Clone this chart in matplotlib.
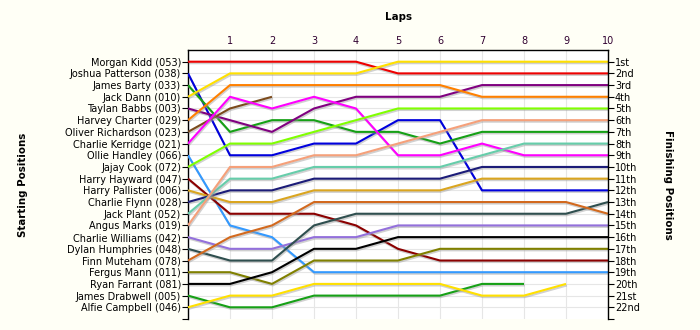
import matplotlib
matplotlib.use("Agg")
import matplotlib.pyplot as plt
import matplotlib.patheffects as pe

# starting grid order, with car numbers
drivers = ["Morgan Kidd (053)", "Joshua Patterson (038)", "James Barty (033)",
           "Jack Dann (010)", "Taylan Babbs (003)", "Harvey Charter (029)",
           "Oliver Richardson (023)", "Charlie Kerridge (021)", "Ollie Handley (066)",
           "Jajay Cook (072)", "Harry Hayward (047)", "Harry Pallister (006)",
           "Charlie Flynn (028)", "Jack Plant (052)", "Angus Marks (019)",
           "Charlie Williams (042)", "Dylan Humphries (048)", "Finn Muteham (078)",
           "Fergus Mann (011)", "Ryan Farrant (081)", "James Drabwell (005)",
           "Alfie Campbell (046)"]

# position at lap 0..10 (shorter lists = retired)
positions = [
    [1, 1, 1, 1, 1, 2, 2, 2, 2, 2, 2],
    [2, 9, 9, 8, 8, 6, 6, 12, 12, 12, 12],
    [3, 7, 6, 6, 7, 7, 8, 7, 7, 7, 7],
    [4, 2, 2, 2, 2, 1, 1, 1, 1, 1, 1],
    [5, 6, 7, 5, 4, 4, 4, 3, 3, 3, 3],
    [6, 3, 3, 3, 3, 3, 3, 4, 4, 4, 4],
    [7, 5, 4],
    [8, 4, 5, 4, 5, 9, 9, 8, 9, 9, 9],
    [9, 15, 16, 19, 19, 19, 19, 19, 19, 19, 19],
    [10, 8, 8, 7, 6, 5, 5, 5, 5, 5, 5],
    [11, 14, 14, 14, 15, 17, 18, 18, 18, 18, 18],
    [12, 13, 13, 12, 12, 12, 12, 11, 11, 11, 11],
    [13, 12, 12, 11, 11, 11, 11, 10, 10, 10, 10],
    [14, 11, 11, 10, 10, 10, 10, 9, 8, 8, 8],
    [15, 10, 10, 9, 9, 8, 7, 6, 6, 6, 6],
    [16, 17, 17, 16, 16, 15, 15, 15, 15, 15, 15],
    [17, 18, 18, 15, 14, 14, 14, 14, 14, 14, 13],
    [18, 16, 15, 13, 13, 13, 13, 13, 13, 13, 14],
    [19, 19, 20, 18, 18, 18, 17, 17, 17, 17, 17],
    [20, 20, 19, 17, 17, 16, 16, 16, 16, 16, 16],
    [21, 22, 22, 21, 21, 21, 21, 20, 20],
    [22, 21, 21, 20, 20, 20, 20, 21, 21, 20],
]

colours = ["#ee0000", "#0000dd", "#16a016", "#ffe000", "#800080", "#ff8000",
           "#7b4a1c", "#ff00ff", "#3399ff", "#80ff00", "#8b0000", "#daa520",
           "#1c1c78", "#66cdaa", "#f5a07a", "#9370db", "#2f4f4f", "#d2691e",
           "#808000", "#000000", "#16a016", "#ffe000"]

laps = list(range(1, 11))
finish_labels = ["1st", "2nd", "3rd"] + [f"{n}th" for n in range(4, 21)] + ["21st", "22nd"]

fig = plt.figure(figsize=(7, 3.3), dpi=100, facecolor="#fffff6")
ax = fig.add_axes([188 / 700, 1 - 319 / 330, 420 / 700, 269 / 330])
ax.set_facecolor("white")

for pos, col in zip(positions, colours):
    ax.plot(range(len(pos)), pos, color=col, lw=1.5, solid_capstyle="butt",
            path_effects=[pe.SimpleLineShadow(offset=(0.6, -1.1), shadow_color="#999999", alpha=0.45),
                          pe.Normal()], zorder=3)

ax.set_xlim(0, 10)
ax.set_ylim(23, 0)

# grid
for x in laps:
    ax.axvline(x, color="#e6e6e6", lw=0.8, zorder=1)
for y in range(1, 23):
    ax.axhline(y, color="#e6e6e6", lw=0.8, zorder=1)

ax.xaxis.tick_top()
ax.set_xticks(laps)
ax.set_xticklabels([str(l) for l in laps], color="#300030")
ax.tick_params(axis="x", length=0, pad=3, labelsize=7)
fig.text(398 / 700, 1 - 17 / 330, "Laps", fontsize=7.4, fontweight="bold", ha="center", va="center")

ax.set_yticks(list(range(1, 24)))
ax.set_yticklabels(drivers + [""])
ax.tick_params(axis="y", length=4, pad=1, labelsize=7, direction="out")
ax.set_ylabel("Starting Positions", fontsize=7.4, fontweight="bold")
ax.yaxis.set_label_coords(-0.381, 0.5)

ax.spines["bottom"].set_visible(False)
ax.spines["right"].set_visible(False)
for s in ["left", "top"]:
    ax.spines[s].set_linewidth(1.0)

ax2 = ax.twinx()
ax2.set_ylim(23, 0)
ax2.set_yticks(list(range(1, 24)))
ax2.set_yticklabels(finish_labels + [""])
ax2.tick_params(axis="y", length=4, pad=1, labelsize=7, direction="out")
ax2.spines["bottom"].set_visible(False)
ax2.spines["left"].set_visible(False)
ax2.spines["top"].set_visible(False)
ax2.spines["right"].set_linewidth(1.0)
ax2.set_ylabel("Finishing Positions", fontsize=7.4, fontweight="bold", rotation=270, va="center")
ax2.yaxis.set_label_coords(1.143, 0.5)

fig.savefig("out.png", dpi=100, facecolor=fig.get_facecolor())
